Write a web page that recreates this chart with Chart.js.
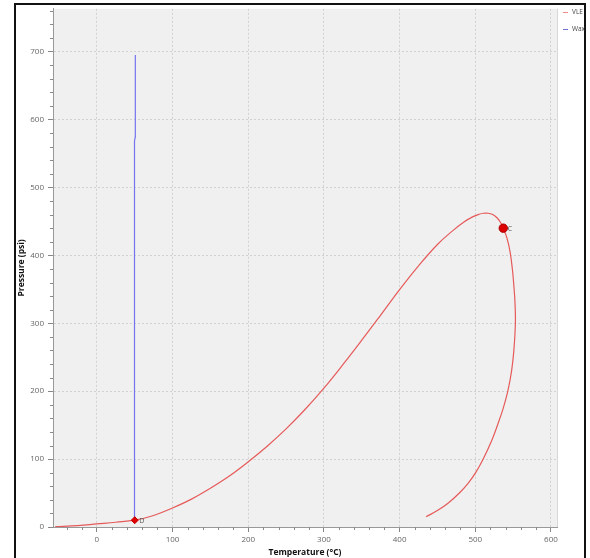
<!DOCTYPE html>
<html><head><meta charset="utf-8">
<script src="https://cdn.jsdelivr.net/npm/chart.js@4"></script>
<style>html,body{margin:0;padding:0;background:#fff;}#wrap{width:590px;height:558px;position:relative;overflow:hidden}</style>
</head><body><div id="wrap"><canvas id="c" width="590" height="558"></canvas></div>
<script>
// ---- data ----
const vleT = [-55,-25,0,25,50,75,100,125,150,175,200,225,250,275,300,325,350,375,400,425,450,470,485,497,505,511,517,523,529,533,537,542,546,549,551,552.5,553,551,548,543,537,530,522,510.5,500.5,491,479,464,451,435];
const vleP = [0.5,2,4.5,7,10,17,28,41,57,75,96,119,144.5,173,204.5,239,275,312,349.5,384.5,416,436,449,457,460.5,462,462,460,455,449,440,425,405,380,355,330,300,260,230,200,175,152,128,100,80,65,50,35,25,15];
const waxT = [49.5,49.7,50.6,50.8];
const waxP = [10,568,574,695];
const pointD = {t:50, p:10, label:'D'};
const pointC = {t:537, p:440, label:'C'};
const xTicks = [0,100,200,300,400,500,600];
const yTicks = [0,100,200,300,400,500,600,700];
const seriesNames = ['VLE','Wax'];
const xTitle = 'Temperature (°C)';
const yTitle = 'Pressure (psi)';

const vleColor = '#e65a5a';
const waxColor = '#7474ee';
const FONT = "'Open Sans', 'DejaVu Sans', sans-serif";

const decor = {
  id: 'decor',
  beforeDraw(chart) {
    const {ctx, chartArea: a} = chart;
    ctx.save();
    ctx.fillStyle = '#fff';
    ctx.fillRect(0, 0, chart.width, chart.height);
    ctx.fillStyle = '#f0f0f0';
    ctx.fillRect(a.left, a.top, a.right - a.left, a.bottom - a.top);
    ctx.strokeStyle = '#d8d8d8';
    ctx.lineWidth = 1;
    ctx.beginPath();
    ctx.moveTo(a.right + 0.5, a.top);
    ctx.lineTo(a.right + 0.5, a.bottom);
    ctx.stroke();
    ctx.restore();
  },
  afterDraw(chart) {
    const {ctx, chartArea: a, scales: {x, y}} = chart;
    ctx.save();
    // minor ticks
    ctx.strokeStyle = '#8a8a8a';
    ctx.lineWidth = 1;
    ctx.beginPath();
    for (let v = 20; v <= 760; v += 20) {
      if (v % 100 === 0) continue;
      const py = Math.round(y.getPixelForValue(v)) + 0.5;
      ctx.moveTo(a.left - 3, py); ctx.lineTo(a.left, py);
    }
    for (let v = -40; v <= 600; v += 20) {
      if (v % 100 === 0) continue;
      const px = Math.round(x.getPixelForValue(v)) + 0.5;
      ctx.moveTo(px, a.bottom); ctx.lineTo(px, a.bottom + 3);
    }
    ctx.stroke();
    // point labels
    ctx.fillStyle = '#555';
    ctx.font = "7px " + FONT;
    ctx.textBaseline = 'middle';
    ctx.textAlign = 'left';
    [pointD, pointC].forEach(p => {
      ctx.fillText(p.label, x.getPixelForValue(p.t) + 4.5, y.getPixelForValue(p.p) + 0.5);
    });
    // frame
    ctx.strokeStyle = '#111';
    ctx.lineWidth = 2;
    ctx.strokeRect(15, 4, 570, 570);
    // legend
    const items = [[seriesNames[0], '#f08a8a'], [seriesNames[1], '#7070d8']];
    items.forEach((it, i) => {
      const ly = 12 + i * 17;
      ctx.strokeStyle = it[1];
      ctx.lineWidth = 1;
      ctx.beginPath();
      ctx.moveTo(563, ly + 0.5); ctx.lineTo(568, ly + 0.5);
      ctx.stroke();
      ctx.fillStyle = '#444';
      ctx.font = "6.5px " + FONT;
      ctx.fillText(it[0], 572, ly + 0.5);
    });
    ctx.restore();
  }
};

const tickFont = {family: FONT, size: 8};
const titleFont = {family: FONT, size: 8.5, weight: 'bold'};

new Chart(document.getElementById('c'), {
  type: 'scatter',
  data: {
    datasets: [
      {label: seriesNames[0], data: vleT.map((t, i) => ({x: t, y: vleP[i]})), showLine: true,
       borderColor: vleColor, borderWidth: 1.2, pointRadius: 0, tension: 0.4, order: 3},
      {label: seriesNames[1], data: waxT.map((t, i) => ({x: t, y: waxP[i]})), showLine: true,
       borderColor: waxColor, borderWidth: 1.2, pointRadius: 0, tension: 0, order: 2},
      {label: 'D', data: [{x: pointD.t, y: pointD.p}], pointStyle: 'rectRot', pointRadius: 3.5,
       backgroundColor: '#e00000', borderColor: '#c00000', borderWidth: 1, order: 1},
      {label: 'C', data: [{x: pointC.t, y: pointC.p}], pointStyle: 'circle', pointRadius: 4.2,
       backgroundColor: '#dd0000', borderColor: '#a80000', borderWidth: 1, order: 1}
    ]
  },
  options: {
    responsive: false,
    animation: false,
    devicePixelRatio: 1,
    layout: {padding: {left: 16, top: 5, right: 33, bottom: 0}, autoPadding: false},
    plugins: {legend: {display: false}, tooltip: {enabled: false}},
    scales: {
      x: {
        type: 'linear', min: -58, max: 608,
        afterBuildTicks: s => { s.ticks = xTicks.map(v => ({value: v})); },
        afterFit: s => { s.height = 31; },
        ticks: {font: tickFont, color: '#666', padding: 3, maxRotation: 0},
        grid: {color: '#d2d2d2', tickColor: '#888', tickLength: 5, drawOnChartArea: true},
        border: {display: true, color: '#999', width: 1, dash: [2, 2]},
        title: {display: true, text: xTitle, font: titleFont, color: '#111', padding: {top: 0, bottom: 0}}
      },
      y: {
        type: 'linear', min: 0, max: 763,
        afterBuildTicks: s => { s.ticks = yTicks.map(v => ({value: v})); },
        afterFit: s => { s.width = 37; },
        ticks: {font: tickFont, color: '#666', padding: 4},
        grid: {color: '#d2d2d2', tickColor: '#888', tickLength: 5},
        border: {display: true, color: '#999', width: 1, dash: [2, 2]},
        title: {display: true, text: yTitle, font: titleFont, color: '#111', padding: {top: 0, bottom: 0}}
      }
    }
  },
  plugins: [decor]
});
</script>
</body></html>
